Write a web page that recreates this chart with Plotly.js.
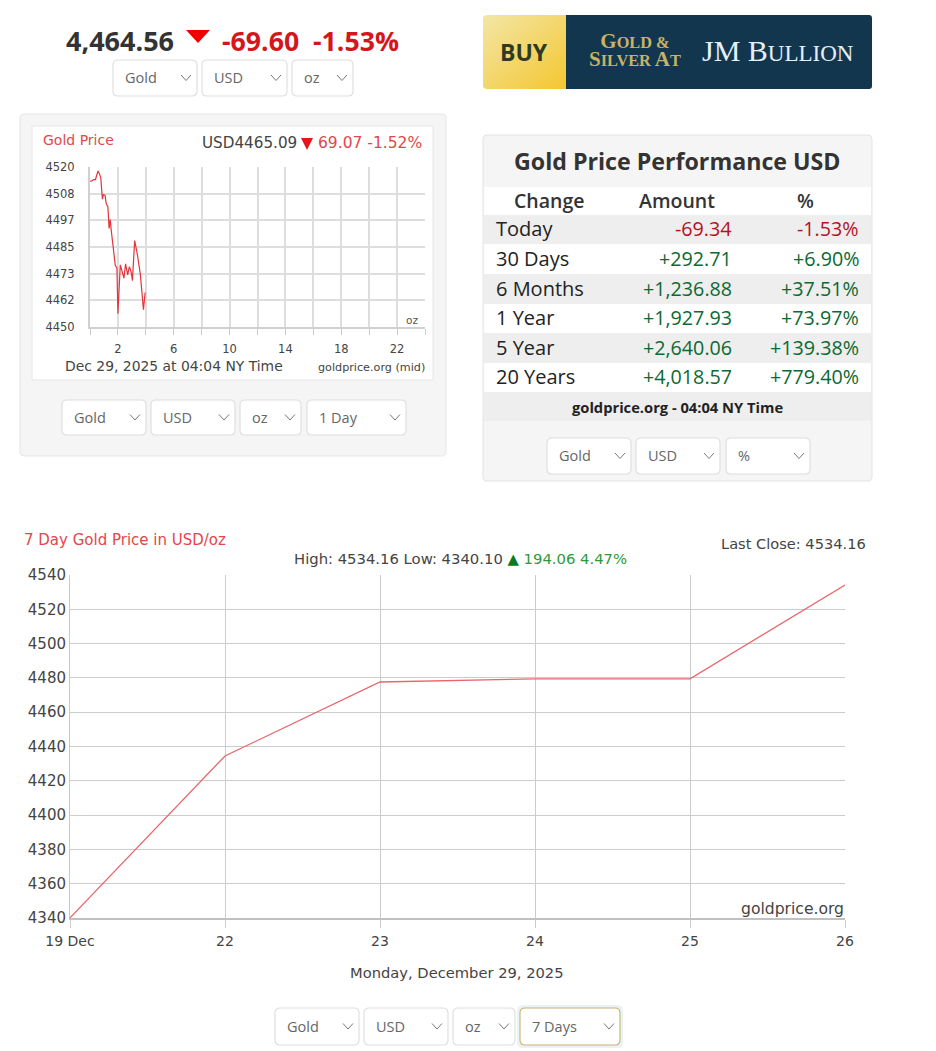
<!DOCTYPE html>
<html><head><meta charset="utf-8">
<script src="https://cdn.plot.ly/plotly-3.0.1.min.js"></script>
<style>html,body{margin:0;padding:0;background:#fff}#chart{width:936px;height:1051px}</style>
</head><body><div id="chart"></div>
<script>
// ---------- data ----------
const dayHours = [0,0.14,0.24,0.39,0.48,0.58,0.67,0.77,0.82,0.89,0.96,1.08,1.16,1.28,1.37,1.45,1.52,1.64,1.81,1.93,2.0,2.17,2.29,2.43,2.55,2.7,2.82,2.94,3.04,3.2,3.4,3.61,3.83,3.95];
const dayPrices = [4513.8,4513.9,4514.5,4514.5,4516.4,4518.3,4517.1,4515.4,4511.3,4505.9,4507.9,4507.7,4504,4502.6,4493.1,4497,4492.4,4486.6,4477,4475.7,4455.8,4477.2,4474.3,4471.4,4477.6,4472.8,4476.4,4474.3,4470.3,4487.8,4481.5,4472.8,4457.6,4465.1];
const dayYTicks = [4450,4461.67,4473.33,4485,4496.67,4508.33,4520];
const dayYLabels = ['4450','4462','4473','4485','4497','4508','4520'];
const dayXTicks = [0,2,4,6,8,10,12,14,16,18,20,22,24];
const dayXLabels = ['','2','','6','','10','','14','','18','','22',''];
const weekDays = ['19 Dec','22','23','24','25','26'];
const weekPrices = [4340.10,4434.5,4477.6,4479.4,4479.4,4534.16];
const perfLabels = ['Today','30 Days','6 Months','1 Year','5 Year','20 Years'];
const perfAmounts = ['-69.34','+292.71','+1,236.88','+1,927.93','+2,640.06','+4,018.57'];
const perfPercents = ['-1.53%','+6.90%','+37.51%','+73.97%','+139.38%','+779.40%'];

// ---------- helpers: page pixels to paper ----------
const W = 936, H = 1051;
const px = x => x / W, py = y => 1 - y / H;
const OS = '"Open Sans", sans-serif', DV = '"DejaVu Sans", sans-serif', SE = '"Liberation Serif", serif';
const shapes = [], annotations = [];
function roundRect(x0,y0,x1,y1,r,fill,line,lw){
  const X=v=>px(v).toFixed(5), Y=v=>py(v).toFixed(5);
  const path=`M${X(x0+r)},${Y(y0)}L${X(x1-r)},${Y(y0)}Q${X(x1)},${Y(y0)} ${X(x1)},${Y(y0+r)}L${X(x1)},${Y(y1-r)}Q${X(x1)},${Y(y1)} ${X(x1-r)},${Y(y1)}L${X(x0+r)},${Y(y1)}Q${X(x0)},${Y(y1)} ${X(x0)},${Y(y1-r)}L${X(x0)},${Y(y0+r)}Q${X(x0)},${Y(y0)} ${X(x0+r)},${Y(y0)}Z`;
  shapes.push({type:'path',xref:'paper',yref:'paper',path,fillcolor:fill,line:{color:line||'rgba(0,0,0,0)',width:lw===undefined?1:lw},layer:'below'});
}
function poly(pts,fill,line,lw){
  const path='M'+pts.map(p=>px(p[0]).toFixed(5)+','+py(p[1]).toFixed(5)).join('L')+(fill?'Z':'');
  shapes.push({type:'path',xref:'paper',yref:'paper',path,fillcolor:fill||'rgba(0,0,0,0)',line:{color:line||'rgba(0,0,0,0)',width:lw||0},layer:'below'});
}
function text(x,y,str,size,color,anchor,family,weight){
  annotations.push({xref:'paper',yref:'paper',x:px(x),y:py(y),text:str,showarrow:false,xanchor:anchor||'left',yanchor:'middle',
    font:{size,color,family:family||OS,weight:weight||400},borderpad:0,borderwidth:0,bgcolor:'rgba(0,0,0,0)'});
}
function dropdown(x0,x1,y0,y1,label,focus){
  if(focus){ roundRect(x0-3,y0-3,x1+3,y1+3,6,'rgba(190,220,235,0.35)'); }
  roundRect(x0,y0,x1,y1,5,'#ffffff',focus?'#c9b36a':'#dddddd',1.1);
  text(x0+12,(y0+y1)/2,label,14.5,'#666666','left');
  const c=x1-11, m=(y0+y1)/2;
  poly([[c-5,m-3],[c,m+2.5],[c+5,m-3]],null,'#777777',1);
}

// ---------- page furniture ----------
text(66,40,'4,464.56',27,'#333333','left',OS,700);
poly([[186,30],[210,30],[198,43]],'#f00000');
text(222,40,'-69.60',26.7,'#d3171c','left',OS,700);
text(313,40,'-1.53%',26.7,'#d3171c','left',OS,700);
dropdown(113,197,60,96,'Gold'); dropdown(202,287,60,96,'USD'); dropdown(292,353,60,96,'oz');

// banner
roundRect(566,15,872,89,3,'#13364f');
shapes.push({type:'rect',xref:'paper',yref:'paper',x0:px(566),x1:px(572),y0:py(15),y1:py(89),fillcolor:'#13364f',line:{width:0},layer:'below'});
text(524,52,'BUY',23,'#2e3a22','center',OS,700);
const big = s => `<span style="font-size:21px">${s}</span>`, small = s => `<span style="font-size:16.3px">${s}</span>`;
text(635,50,big('G')+small('OLD &amp;')+'<br>'+big('S')+small('ILVER ')+big('A')+small('T'),14,'#c9b264','center',SE,700);
text(778,50,'<span style="font-size:30px">JM B</span>ULLION',23,'#e6eff5','center',SE,400);

// left card
roundRect(20,114,446,456,4,'#f5f5f5','#e6e6e6');
shapes.push({type:'rect',xref:'paper',yref:'paper',x0:px(32),x1:px(433),y0:py(126),y1:py(380),fillcolor:'#ffffff',line:{color:'#e6e6e6',width:1},layer:'below'});
text(43,140,'Gold Price',14,'#e2474c','left',DV);
text(202,143,'USD4465.09',15.2,'#444444','left',DV);
poly([[301,138],[313,138],[307,150]],'#e3171c');
text(318,143,'69.07 -1.52%',15.5,'#e2474c','left',DV);
text(412,320,'oz',10.5,'#555555','center',DV);
text(65,366,'Dec 29, 2025 at 04:04 NY Time',13.9,'#444444','left',DV);
text(425,367,'goldprice.org (mid)',11.2,'#444444','right',DV);
dropdown(62,146,400,435,'Gold'); dropdown(151,235,400,435,'USD'); dropdown(240,301,400,435,'oz'); dropdown(307,406,400,435,'1 Day');

// right card
roundRect(483,135,872,481,4,'#f5f5f5','#e3e3e3');
shapes.push({type:'rect',xref:'paper',yref:'paper',x0:px(484),x1:px(871),y0:py(187),y1:py(392),fillcolor:'#ffffff',line:{width:0},layer:'below'});
text(677,161,'Gold Price Performance USD',23.2,'#333333','center',OS,700);
text(549,200.5,'Change',19.5,'#333333','center',OS,600);
text(677,200.5,'Amount',19.5,'#333333','center',OS,600);
text(805,200.5,'%',19.5,'#333333','center',OS,600);
const rowTops=[215,244,274,304,333,363,392];
perfLabels.forEach((lab,i)=>{
  const y0=rowTops[i], y1=rowTops[i+1], m=(y0+y1)/2-0.5;
  if(i%2===0) shapes.push({type:'rect',xref:'paper',yref:'paper',x0:px(484),x1:px(871),y0:py(y0),y1:py(y1),fillcolor:'#eeeeee',line:{width:0},layer:'below'});
  const col=i===0?'#b5121f':'#0b6a33';
  text(496,m,lab,20,'#222222','left');
  text(732,m,perfAmounts[i],19.7,col,'right');
  text(859,m,perfPercents[i],19.7,col,'right');
});
shapes.push({type:'rect',xref:'paper',yref:'paper',x0:px(484),x1:px(871),y0:py(392),y1:py(421),fillcolor:'#eeeeee',line:{width:0},layer:'below'});
text(677,407,'goldprice.org - 04:04 NY Time',14.7,'#222222','center',OS,700);
dropdown(547,631,438,474,'Gold'); dropdown(636,720,438,474,'USD'); dropdown(726,810,438,474,'%');

// bottom chart furniture
text(24,540,'7 Day Gold Price in USD/oz',15,'#e2474c','left',DV);
text(866,543,'Last Close: 4534.16',14.6,'#444444','right',DV);
text(460,558,'High: 4534.16 Low: 4340.10 <span style="color:#0a7a20">▲</span> <span style="color:#2f9a3c">194.06 4.47%</span>',14.8,'#444444','center',DV);
text(844,909,'goldprice.org',15.6,'#444444','right',DV);
text(457,972,'Monday, December 29, 2025',14.7,'#444444','center',DV);
dropdown(275,359,1008,1045,'Gold'); dropdown(364,448,1008,1045,'USD'); dropdown(453,515,1008,1045,'oz'); dropdown(520,620,1008,1045,'7 Days',true);

const bannerSvg = `<svg xmlns="http://www.w3.org/2000/svg" width="89" height="74"><defs><linearGradient id="g" x1="0" y1="0" x2="1" y2="1"><stop offset="0" stop-color="#f3e6a6"/><stop offset="1" stop-color="#f4c62c"/></linearGradient></defs><rect width="89" height="74" rx="4" fill="url(#g)"/></svg>`;

const traces = [
  {x:dayHours,y:dayPrices,xaxis:'x',yaxis:'y',type:'scatter',mode:'lines',line:{color:'#e4343c',width:1.2},hoverinfo:'skip'},
  {x:weekDays,y:weekPrices,xaxis:'x2',yaxis:'y2',type:'scatter',mode:'lines',line:{color:'#e8666a',width:1.3},hoverinfo:'skip'}
];
const layout = {
  width:W,height:H,margin:{l:0,r:0,t:0,b:0},showlegend:false,
  paper_bgcolor:'#ffffff',plot_bgcolor:'rgba(0,0,0,0)',
  font:{family:DV,color:'#444444'},
  xaxis:{domain:[px(90),px(425)],range:[0,24],tickmode:'array',tickvals:dayXTicks,ticktext:dayXLabels,
    showgrid:true,gridcolor:'#dddddd',gridwidth:2,zeroline:false,showline:true,linecolor:'#d0d0d0',linewidth:2,ticks:'outside',ticklen:6,tickcolor:'#cccccc',
    tickfont:{size:11.5,color:'#444444',family:DV},ticklabelstandoff:4,anchor:'y'},
  yaxis:{domain:[py(327),py(167)],range:[4450,4520],tickmode:'array',tickvals:dayYTicks,ticktext:dayYLabels,
    showgrid:true,gridcolor:'#dddddd',gridwidth:2,zeroline:false,showline:true,linecolor:'#d0d0d0',linewidth:2,ticks:'',
    tickfont:{size:11.5,color:'#444444',family:DV},ticklabelstandoff:11,anchor:'x'},
  xaxis2:{type:'category',domain:[px(70),px(845)],range:[0,5],showgrid:true,gridcolor:'#cccccc',gridwidth:1,zeroline:false,showline:true,linecolor:'#c0c0c0',linewidth:2,
    ticks:'outside',ticklen:8,tickcolor:'#cccccc',tickfont:{size:14,color:'#444444',family:DV},ticklabelstandoff:1,anchor:'y2'},
  yaxis2:{domain:[py(918),py(575)],range:[4340,4540],tick0:4340,dtick:20,showgrid:true,gridcolor:'#cccccc',gridwidth:1,zeroline:false,showline:true,linecolor:'#c8c8c8',
    ticks:'',tickfont:{size:15,color:'#444444',family:DV},ticklabelstandoff:0,anchor:'x2'},
  shapes,annotations,
  images:[{source:'data:image/svg+xml;charset=utf-8,'+encodeURIComponent(bannerSvg),xref:'paper',yref:'paper',x:px(483),y:py(15),sizex:px(89),sizey:74/H,sizing:'stretch',xanchor:'left',yanchor:'top',layer:'below'}]
};
Plotly.newPlot('chart',traces,layout,{displayModeBar:false,staticPlot:true});
</script></body></html>
